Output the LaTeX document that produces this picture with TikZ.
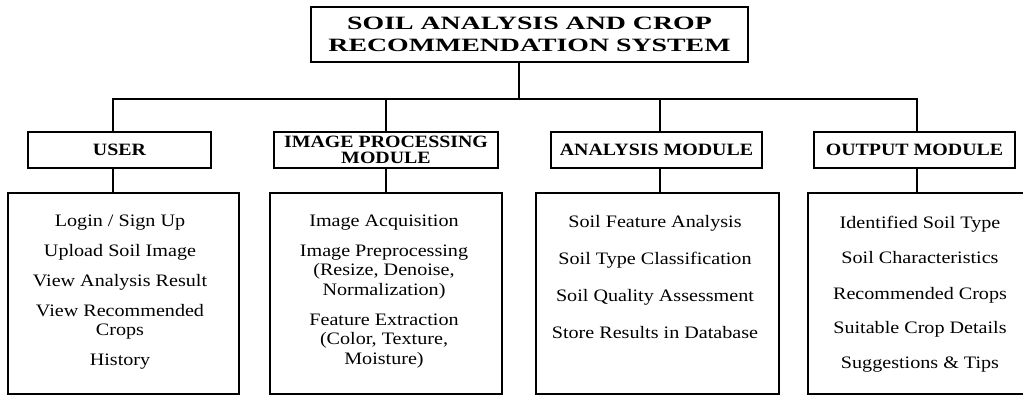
\documentclass[tikz,border=0pt]{standalone}
\usepackage{fontspec}
\setmainfont{Liberation Serif}[FakeStretch=1.15]
\newfontfamily\titlefont{Liberation Serif}[FakeStretch=1.48]

\begin{document}
\begin{tikzpicture}
            [x=1pt, y=1pt, line width=1.6pt,
             titlebox/.style={shape=rectangle, draw=black, line width=1.6pt, minimum width=437pt, minimum height=55pt, align=center, inner sep=0pt, font=\titlefont\bfseries\fontsize{18.8}{21.5}\selectfont},
             headbox/.style={shape=rectangle, draw=black, line width=1.6pt, minimum height=36pt, align=center, inner sep=0pt, font=\bfseries\fontsize{17.3}{16.5}\selectfont},
             detbox/.style={shape=rectangle, draw=black, line width=1.6pt, minimum height=201pt, inner sep=0pt},
             items/.style={align=center, inner sep=0pt, anchor=north, font=\fontsize{17.5}{19.5}\selectfont}]
            \useasboundingbox (0,0) rectangle (1023,-396);

            \node[titlebox] (title) at (529.5,-34.5) {SOIL ANALYSIS AND CROP\\RECOMMENDATION SYSTEM};

            \node[headbox, minimum width=183pt] (user) at (119.5,-150) {USER};
            \node[headbox, minimum width=224pt] (imgproc) at (386,-150) {IMAGE PROCESSING\\MODULE};
            \node[headbox, minimum width=211pt] (analysis) at (656.5,-150) {ANALYSIS MODULE};
            \node[headbox, minimum width=201pt] (output) at (914.5,-150) {OUTPUT MODULE};

            \node[detbox, minimum width=231pt] (userdet) at (123.5,-293.5) {};
            \node[detbox, minimum width=232pt] (imgprocdet) at (386,-293.5) {};
            \node[detbox, minimum width=243pt] (analysisdet) at (657.5,-293.5) {};
            \node[detbox, minimum width=222pt] (outputdet) at (919,-293.5) {};

            \node[items] (usertxt) at (120,-214) {Login / Sign Up\\[10.5pt]Upload Soil Image\\[10.5pt]View Analysis Result\\[10.5pt]View Recommended\\Crops\\[10.5pt]History};
            \node[items] (imgproctxt) at (384,-214) {Image Acquisition\\[10.5pt]Image Preprocessing\\(Resize, Denoise,\\Normalization)\\[10.5pt]Feature Extraction\\(Color, Texture,\\Moisture)};
            \node[items] (analysistxt) at (655,-215) {Soil Feature Analysis\\[17.5pt]Soil Type Classification\\[17.5pt]Soil Quality Assessment\\[17.5pt]Store Results in Database};
            \node[items] (outputtxt) at (920,-215) {Identified Soil Type\\[16pt]Soil Characteristics\\[16pt]Recommended Crops\\[15pt]Suitable Crop Details\\[15pt]Suggestions \& Tips};

            \coordinate (tdrop) at (519,-99);
            \coordinate (udrop) at (113,-99);
            \coordinate (idrop) at (386,-99);
            \coordinate (adrop) at (660,-99);
            \coordinate (odrop) at (917,-99);

            \draw (title.south -| tdrop) -- (tdrop);
            \draw (udrop |- user.north) -- (udrop) -- (odrop) -- (odrop |- output.north);
            \draw (idrop) -- (idrop |- imgproc.north);
            \draw (adrop) -- (adrop |- analysis.north);

            \draw (user.south -| udrop) -- (udrop |- userdet.north);
            \draw (imgproc.south -| idrop) -- (idrop |- imgprocdet.north);
            \draw (analysis.south -| adrop) -- (adrop |- analysisdet.north);
            \draw (output.south -| odrop) -- (odrop |- outputdet.north);
        \end{tikzpicture}
\end{document}
